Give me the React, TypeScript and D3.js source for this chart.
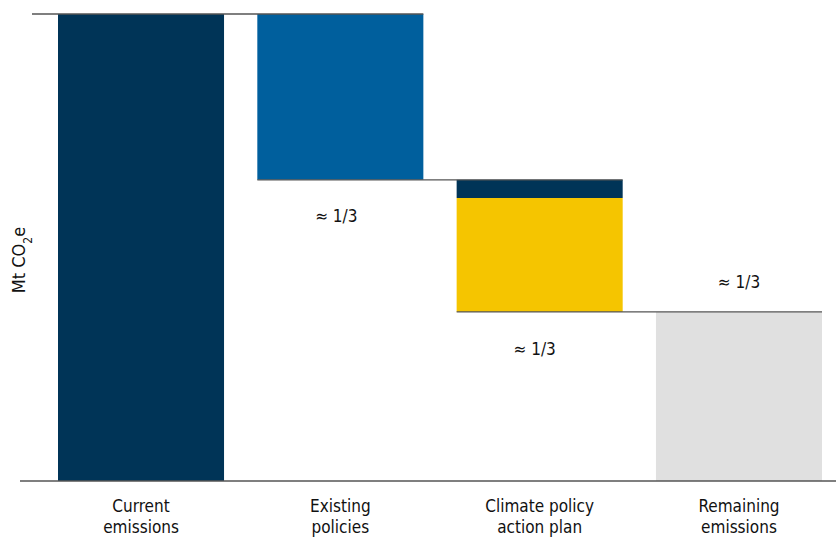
import React from "react";
import * as d3 from "d3";

// Waterfall: current emissions split into reductions and what remains
const categories = ["Current emissions", "Existing policies", "Climate policy action plan", "Remaining emissions"];
const categoryLines = [["Current", "emissions"], ["Existing", "policies"], ["Climate policy", "action plan"], ["Remaining", "emissions"]];
const currentEmissions = 100;
const existingPolicies = 35.5;
const actionPlanParts = [3.9, 24.4]; // dark top slice, yellow main slice
const remainingEmissions = 36.2;
const shareLabels = ["≈ 1/3", "≈ 1/3", "≈ 1/3"];

const W = 836;
const H = 537;
const FONT = "'Liberation Sans Narrow', 'DejaVu Sans Condensed', 'Roboto', sans-serif";

export default function App() {
  const y = d3.scaleLinear().domain([0, currentEmissions]).range([481, 14]);
  const x = d3.scaleBand<string>().domain(categories).range([58, 822]).paddingInner(0.167).paddingOuter(0);
  const bw = x.bandwidth();

  const afterExisting = currentEmissions - existingPolicies;
  const afterPlanTop = afterExisting - actionPlanParts[0];
  const afterPlan = afterPlanTop - actionPlanParts[1];

  const xs = categories.map((c) => x(c) as number);
  const cx = xs.map((v) => v + bw / 2);

  const lineColor = "#555";

  return (
    <svg width={W} height={H} style={{ position: "absolute", left: 0, top: 0, background: "#fff" }}>
      {/* bars */}
      <rect x={xs[0]} y={y(currentEmissions)} width={bw} height={y(0) - y(currentEmissions)} fill="#003457" />
      <rect x={xs[1]} y={y(currentEmissions)} width={bw} height={y(afterExisting) - y(currentEmissions)} fill="#005f9d" />
      <rect x={xs[2]} y={y(afterExisting)} width={bw} height={y(afterPlanTop) - y(afterExisting)} fill="#003457" />
      <rect x={xs[2]} y={y(afterPlanTop)} width={bw} height={y(afterPlan) - y(afterPlanTop)} fill="#f5c500" />
      <rect x={xs[3]} y={y(remainingEmissions)} width={bw} height={y(0) - y(remainingEmissions)} fill="#e0e0e0" />

      {/* connector lines */}
      <line x1={32} x2={xs[1] + bw} y1={y(currentEmissions)} y2={y(currentEmissions)} stroke={lineColor} strokeWidth={1.3} />
      <line x1={xs[1]} x2={xs[2] + bw} y1={y(afterExisting)} y2={y(afterExisting)} stroke={lineColor} strokeWidth={1.3} />
      <line x1={xs[2]} x2={xs[3] + bw} y1={y(afterPlan)} y2={y(afterPlan)} stroke={lineColor} strokeWidth={1.3} />

      {/* baseline */}
      <line x1={20} x2={836} y1={y(0)} y2={y(0)} stroke={lineColor} strokeWidth={1.3} />

      {/* share labels */}
      <g fontFamily={FONT} fontSize={17} fill="#111" textAnchor="middle">
        <text x={cx[1] - 4} y={y(afterExisting) + 42}>{shareLabels[0]}</text>
        <text x={cx[2] - 5} y={y(afterPlan) + 43}>{shareLabels[1]}</text>
        <text x={cx[3]} y={y(remainingEmissions) - 24}>{shareLabels[2]}</text>
      </g>

      {/* category labels */}
      <g fontFamily={FONT} fontSize={17} fill="#111" textAnchor="middle">
        {categoryLines.map((lines, i) => (
          <text key={categories[i]} x={cx[i]} y={512}>
            {lines.map((l, j) => (
              <tspan key={j} x={cx[i]} dy={j === 0 ? 0 : 21}>{l}</tspan>
            ))}
          </text>
        ))}
      </g>

      {/* y-axis title */}
      <text
        transform="translate(25,260) rotate(-90)"
        fontFamily={FONT}
        fontSize={18}
        fill="#111"
        textAnchor="middle"
      >
        Mt CO<tspan baselineShift="sub" fontSize={12}>2</tspan>e
      </text>
    </svg>
  );
}
